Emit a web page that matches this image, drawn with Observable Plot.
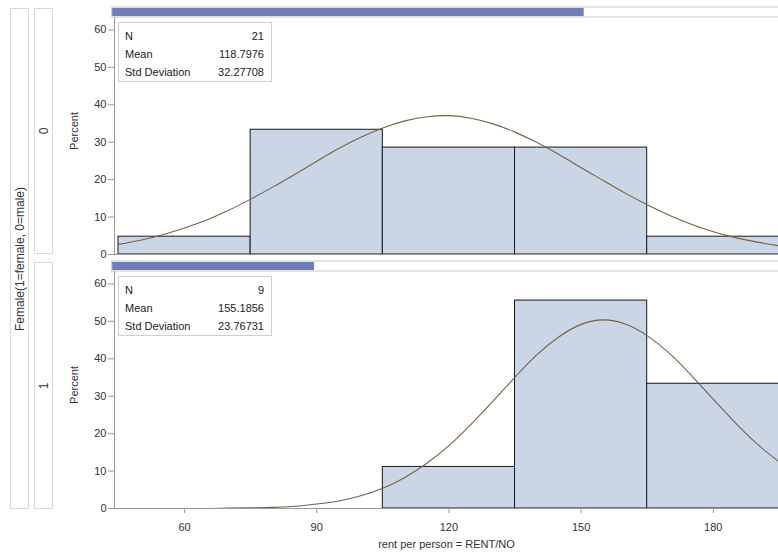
<!DOCTYPE html>
<html>
<head>
<meta charset="utf-8">
<script src="https://cdn.jsdelivr.net/npm/d3@7"></script>
<script src="https://cdn.jsdelivr.net/npm/@observablehq/plot@0.6"></script>
<style>
html, body { margin: 0; padding: 0; background: #fff; overflow: hidden; }
#chart { position: relative; width: 778px; height: 556px; font-family: "Liberation Sans", Arial, sans-serif; color: #333; overflow: hidden; }
.box { position: absolute; border: 1px solid #dadada; box-sizing: border-box; background: #fff; }
.rot { position: absolute; left: 50%; top: 50%; transform: translate(-50%, -50%) rotate(-90deg); white-space: nowrap; font-size: 12px; color: #333; }
.inset { position: absolute; border: 1px solid #cfcfcf; background: #fff; box-sizing: border-box; font-size: 11px; color: #222; padding: 4px 7px 0 6px; }
.inset .row { display: flex; justify-content: space-between; height: 18px; line-height: 18px; }
.plotwrap { position: absolute; left: 0; }
.plotwrap svg { overflow: visible; }
</style>
</head>
<body>
<div id="chart"></div>
<script>
// ---------- data ----------
const groups = ["0", "1"];
const groupTitle = "Female(1=female, 0=male)";
const binEdges = [45, 75, 105, 135, 165, 195];
const pctMale = [4.76, 33.33, 28.57, 28.57, 4.76];
const pctFemale = [0, 0, 11.11, 55.56, 33.33];
const nMale = 21;
const nFemale = 9;
const statLabels = ["N", "Mean", "Std Deviation"];
const statsMale = ["21", "118.7976", "32.27708"];
const statsFemale = ["9", "155.1856", "23.76731"];
const curveXMale = [45, 50, 55, 60, 65, 70, 75, 80, 85, 90, 95, 100, 105, 110, 115, 120, 125, 130, 135, 140, 145, 150, 155, 160, 165, 170, 175, 180, 185, 190, 195];
const curveYMale = [2.7, 3.8, 5.3, 7.1, 9.2, 11.8, 14.8, 18.0, 21.4, 24.9, 28.3, 31.3, 33.8, 35.7, 36.8, 37.1, 36.4, 34.9, 32.7, 29.9, 26.7, 23.2, 19.8, 16.4, 13.3, 10.5, 8.1, 6.1, 4.5, 3.3, 2.3];
const curveXFemale = [60, 65, 70, 75, 80, 85, 90, 95, 100, 105, 110, 115, 120, 125, 130, 135, 140, 145, 150, 155, 160, 165, 170, 175, 180, 185, 190, 195];
const curveYFemale = [0.0, 0.0, 0.1, 0.2, 0.3, 0.6, 1.2, 2.0, 3.4, 5.4, 8.3, 12.1, 16.8, 22.5, 28.7, 35.1, 41.1, 45.9, 49.2, 50.4, 49.3, 46.2, 41.5, 35.6, 29.2, 22.9, 17.2, 12.4];
const xTicks = [60, 90, 120, 150, 180];
const yTicks = [0, 10, 20, 30, 40, 50, 60];
const xLabel = "rent per person = RENT/NO";
const yLabel = "Percent";

// ---------- layout ----------
const W = 778;
const ML = 114;
const xDomain = [44.1, 194.8];
const yFrameTop = 63.33;
const yDomain = [0, 66];
const stripStart = 43.6, stripEnd = 196.6;
const total = nMale + nFemale;

const chart = document.getElementById("chart");

function panel(pct, cx, cy, n, isBottom) {
  const bins = pct.map((p, i) => ({x1: binEdges[i], x2: binEdges[i + 1], p})).filter(d => d.p > 0);
  const curve = cx.map((x, i) => ({x, y: cy[i]}));
  const frac = n / total;
  const marks = [
    Plot.rect([0], {x1: stripStart, x2: stripStart + frac * (stripEnd - stripStart), y1: yFrameTop + 0.25, y2: yDomain[1] - 0.25, fill: "#6f7eb4"}),
    Plot.rect([0], {x1: stripStart, x2: stripEnd, y1: yFrameTop, y2: yDomain[1], fill: "none", stroke: "#c8c8c8"}),
    Plot.rect(bins, {x1: "x1", x2: "x2", y1: 0, y2: "p", fill: "#cad5e5", stroke: "#1a1a1a", strokeWidth: 1}),
    Plot.line(curve, {x: "x", y: "y", stroke: "#7a6245", strokeWidth: 1.1, curve: "natural"}),
    Plot.ruleX([xDomain[0]], {y1: 0, y2: yFrameTop, stroke: "#9a9a9a"}),
    Plot.ruleY([0], {x1: xDomain[0], x2: stripEnd, stroke: "#9a9a9a"}),
    Plot.axisY(yTicks, {tickSize: 6, text: null, label: null, color: "#9a9a9a"}),
    Plot.axisY(yTicks, {tickSize: 0, tickPadding: 8, color: "#333", fontSize: 11, label: yLabel, labelAnchor: "center", labelOffset: 44, labelArrow: "none"})
  ];
  if (isBottom) {
    marks.push(Plot.axisX(xTicks, {tickSize: 5, text: null, label: null, color: "#9a9a9a"}));
    marks.push(Plot.axisX(xTicks, {tickSize: 0, tickPadding: 15, color: "#333", fontSize: 11, label: xLabel, labelAnchor: "center", labelOffset: 39, labelArrow: "none"}));
  }
  return Plot.plot({
    width: W,
    height: isBottom ? 302 : 260,
    marginLeft: ML,
    marginRight: 0,
    marginTop: 7,
    marginBottom: isBottom ? 48 : 6,
    style: {background: "transparent", overflow: "visible", fontFamily: "Liberation Sans, Arial, sans-serif", fontSize: "12px", color: "#333"},
    x: {domain: xDomain, axis: null},
    y: {domain: yDomain, axis: null},
    marks
  });
}

function addPlot(svg, top) {
  const w = document.createElement("div");
  w.className = "plotwrap";
  w.style.top = top + "px";
  w.appendChild(svg);
  chart.appendChild(w);
}

addPlot(panel(pctFemale, curveXFemale, curveYFemale, nFemale, true), 254);
addPlot(panel(pctMale, curveXMale, curveYMale, nMale, false), 0);

function inset(labels, vals, top) {
  const d = document.createElement("div");
  d.className = "inset";
  d.style.left = "118px"; d.style.top = top + "px"; d.style.width = "154px"; d.style.height = "60px";
  labels.forEach((l, i) => {
    const r = document.createElement("div");
    r.className = "row";
    const a = document.createElement("span"); a.textContent = l;
    const b = document.createElement("span"); b.textContent = vals[i];
    r.appendChild(a); r.appendChild(b);
    d.appendChild(r);
  });
  chart.appendChild(d);
}
inset(statLabels, statsMale, 22);
inset(statLabels, statsFemale, 276);

function box(left, top, w, h, text) {
  const d = document.createElement("div");
  d.className = "box";
  d.style.left = left + "px"; d.style.top = top + "px"; d.style.width = w + "px"; d.style.height = h + "px";
  const t = document.createElement("div");
  t.className = "rot"; t.textContent = text;
  d.appendChild(t);
  chart.appendChild(d);
}
box(10, 8, 19, 501, groupTitle);
box(34, 8, 19, 246, groups[0]);
box(34, 262, 19, 247, groups[1]);
</script>
</body>
</html>
